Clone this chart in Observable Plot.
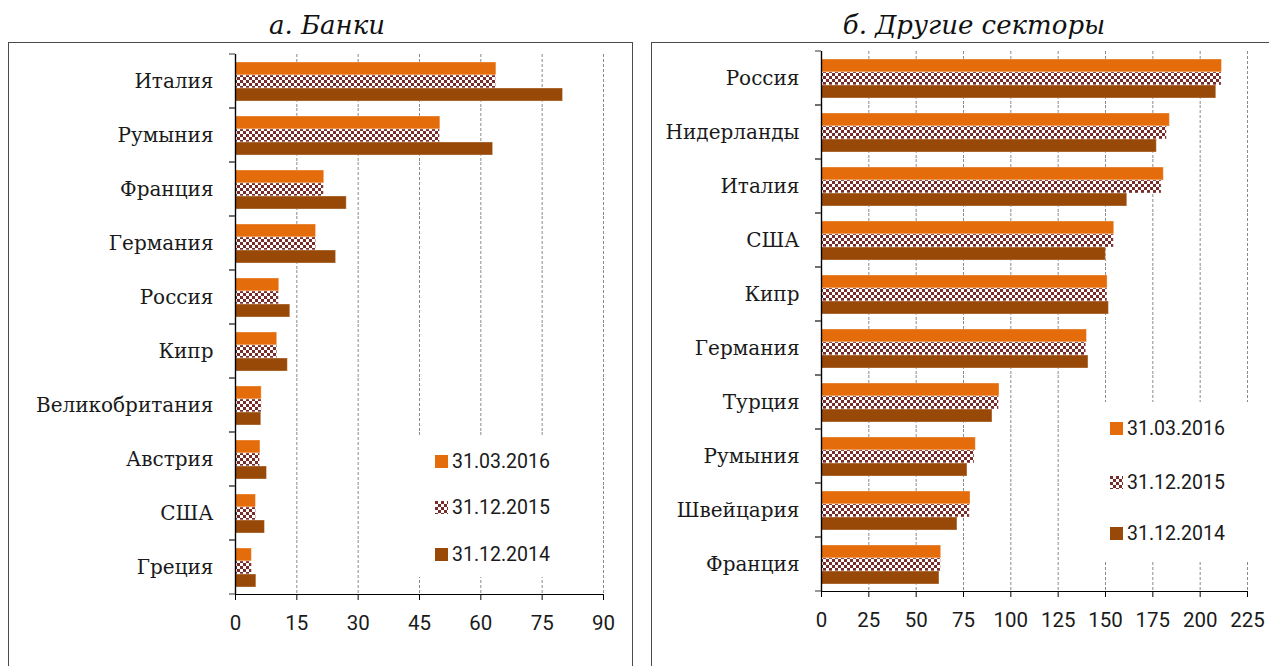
<!DOCTYPE html>
<html>
<head>
<meta charset="utf-8">
<script src="https://cdn.jsdelivr.net/npm/d3@7"></script>
<script src="https://cdn.jsdelivr.net/npm/@observablehq/plot@0.6"></script>
<style>
  html, body { margin: 0; padding: 0; background: #fff; }
  #root { position: relative; width: 1269px; height: 666px; overflow: hidden; background: #fff; }
  .chart { position: absolute; top: 0; }
  .chart svg { display: block; background: transparent !important; max-width: none !important; }
  .chart svg g[aria-label^="x-axis"] text { font-family: Roboto, Lato, sans-serif; font-size: 20.5px; fill: #1a1a1a; }
  .chart svg g[aria-label^="fy-axis"] text { font-family: "DejaVu Serif", serif; font-size: 20px; fill: #1a1a1a; }
  .frame { position: absolute; border: 1px solid #4a4a4a; background: transparent; z-index: 5; box-sizing: border-box; }
  .title { position: absolute; font-family: "DejaVu Serif", serif; font-style: italic; font-size: 26px; color: #111; white-space: nowrap; transform: translateX(-50%); z-index: 6; }
  .legend { position: absolute; background: #fff; z-index: 4; }
  .item { position: absolute; height: 20px; display: flex; align-items: center; font-family: Roboto, Lato, sans-serif; font-size: 19.5px; color: #1a1a1a; white-space: nowrap; }
  .item svg { margin-right: 4px; }
</style>
</head>
<body>
<svg width="0" height="0" style="position:absolute">
  <defs>
    <pattern id="chk" width="6" height="6" patternUnits="userSpaceOnUse">
      <rect width="6" height="6" fill="#ffffff"></rect>
      <rect x="0" y="0" width="3" height="3" fill="#772c2a"></rect>
      <rect x="3" y="3" width="3" height="3" fill="#772c2a"></rect>
    </pattern>
  </defs>
</svg>
<div id="root"></div>
<script>
// ---- data ----
const series = ["31.03.2016", "31.12.2015", "31.12.2014"];

const bankCountries = ["Италия", "Румыния", "Франция", "Германия", "Россия", "Кипр", "Великобритания", "Австрия", "США", "Греция"];
const bank2016 = [63.8, 50.1, 21.7, 19.7, 10.7, 10.2, 6.4, 6.1, 5.0, 4.0];
const bank2015 = [63.7, 50.0, 21.6, 19.7, 10.6, 10.2, 6.4, 6.0, 5.0, 4.0];
const bank2014 = [80.1, 63.0, 27.2, 24.6, 13.4, 12.8, 6.3, 7.7, 7.2, 5.1];
const bankTicks = [0, 15, 30, 45, 60, 75, 90];

const otherCountries = ["Россия", "Нидерланды", "Италия", "США", "Кипр", "Германия", "Турция", "Румыния", "Швейцария", "Франция"];
const other2016 = [211.5, 184.0, 180.8, 154.6, 151.1, 140.2, 94.0, 81.5, 78.7, 63.2];
const other2015 = [211.3, 182.4, 179.6, 154.4, 151.0, 139.8, 93.7, 80.8, 78.3, 63.0];
const other2014 = [208.5, 177.1, 161.5, 150.2, 151.8, 141.0, 90.3, 77.1, 71.8, 62.3];
const otherTicks = [0, 25, 50, 75, 100, 125, 150, 175, 200, 225];

const titles = ["а. Банки", "б. Другие секторы"];

const seriesColors = ["#e46c0a", "url(#chk)", "#984807"];

// ---- drawing ----
const root = document.getElementById("root");

function boundaryTicks(index, scales, values, dims) {
  const ns = "http://www.w3.org/2000/svg";
  const g = document.createElementNS(ns, "g");
  for (const y of [dims.marginTop, dims.height - dims.marginBottom]) {
    const l = document.createElementNS(ns, "line");
    l.setAttribute("x1", dims.marginLeft - 6);
    l.setAttribute("x2", dims.marginLeft);
    l.setAttribute("y1", y);
    l.setAttribute("y2", y);
    l.setAttribute("stroke", "#555");
    l.setAttribute("stroke-width", "1.2");
    g.appendChild(l);
  }
  return g;
}

function makeChart(countries, valueLists, ticks, layout) {
  const data = countries.flatMap((c, i) =>
    series.map((s, j) => ({country: c, series: s, value: valueLists[j][i]})));
  const chart = Plot.plot({
    width: layout.width,
    height: 666,
    marginLeft: layout.marginLeft,
    marginRight: layout.marginRight,
    marginTop: layout.marginTop,
    marginBottom: layout.marginBottom,
    x: {domain: [ticks[0], ticks[ticks.length - 1]], ticks: ticks, tickSize: 6, tickPadding: 15, line: true, label: null},
    y: {domain: series, axis: null, paddingInner: 0, paddingOuter: 0.52},
    fy: {domain: countries, padding: 0, axis: "left", tickSize: 0, tickPadding: 22, label: null},
    color: {domain: series, range: seriesColors},
    facet: {data: data, y: "country"},
    marks: [
      Plot.ruleX(ticks.slice(1), {stroke: "#8a8a8a", strokeDasharray: "3,2", strokeWidth: 1}),
      Plot.barX(data, {x: "value", y: "series", fill: "series", stroke: "#ffffff", strokeOpacity: 0.35, strokeWidth: 1}),
      Plot.ruleX([0], {stroke: "#000", strokeWidth: 1.4}),
      boundaryTicks
    ]
  });
  const div = document.createElement("div");
  div.className = "chart";
  div.style.left = layout.left + "px";
  div.appendChild(chart);
  root.appendChild(div);
}

makeChart(bankCountries, [bank2016, bank2015, bank2014], bankTicks,
  {left: 0, width: 640, marginLeft: 235, marginRight: 37, marginTop: 52, marginBottom: 70});
makeChart(otherCountries, [other2016, other2015, other2014], otherTicks,
  {left: 640, width: 629, marginLeft: 181, marginRight: 22, marginTop: 50, marginBottom: 74});

// frames
function addFrame(left, top, width, height) {
  const f = document.createElement("div");
  f.className = "frame";
  Object.assign(f.style, {left: left + "px", top: top + "px", width: width + "px", height: height + "px"});
  root.appendChild(f);
}
addFrame(8, 42, 625, 640);
addFrame(651, 42, 640, 640);

// titles
function addTitle(text, cx, top) {
  const t = document.createElement("div");
  t.className = "title";
  t.textContent = text;
  t.style.left = cx + "px";
  t.style.top = top + "px";
  root.appendChild(t);
}
addTitle(titles[0], 327, 10);
addTitle(titles[1], 974, 10);

// legends
function swatch(i) {
  return `<svg width="13" height="13"><rect width="13" height="13" fill="${seriesColors[i]}"></rect></svg>`;
}
function addLegend(box, itemLeft, centers) {
  const lg = document.createElement("div");
  lg.className = "legend";
  Object.assign(lg.style, {left: box[0] + "px", top: box[1] + "px", width: box[2] + "px", height: box[3] + "px"});
  root.appendChild(lg);
  series.forEach((s, i) => {
    const it = document.createElement("div");
    it.className = "item";
    it.style.left = itemLeft + "px";
    it.style.top = (centers[i] - 10) + "px";
    it.style.zIndex = 6;
    it.innerHTML = swatch(i) + "<span>" + s + "</span>";
    root.appendChild(it);
  });
}
addLegend([416, 437, 183, 140], 435, [461, 507, 554]);
addLegend([1062, 402, 204, 158], 1110, [428, 482, 533]);
</script>
</body>
</html>
